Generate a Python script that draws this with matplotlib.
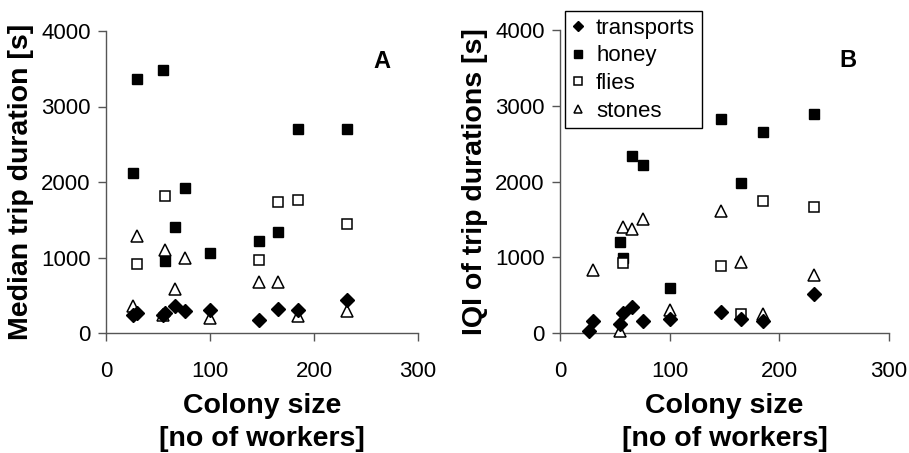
import matplotlib.pyplot as plt

plt.rcParams['font.family'] = ['Liberation Sans', 'DejaVu Sans']

# colony sizes [no of workers] and values
# panel A: median trip duration [s]
a_trans_x = [26, 30, 55, 57, 66, 76, 100, 147, 165, 185, 232]
a_trans_y = [234, 265, 234, 265, 358, 291, 300, 168, 313, 300, 441]
a_honey_x = [26, 30, 55, 57, 66, 76, 100, 147, 165, 185, 232]
a_honey_y = [2115, 3360, 3488, 960, 1400, 1920, 1064, 1214, 1338, 2706, 2706]
a_flies_x = [30, 57, 147, 165, 185, 232]
a_flies_y = [918, 1815, 962, 1735, 1757, 1439]
a_stones_x = [26, 30, 55, 57, 66, 76, 100, 147, 165, 185, 232]
a_stones_y = [353, 1280, 234, 1095, 587, 993, 199, 675, 675, 221, 287]

# panel B: IQI of trip durations [s]
b_trans_x = [26, 30, 55, 57, 66, 76, 100, 147, 165, 185, 232]
b_trans_y = [31, 154, 123, 264, 343, 154, 189, 277, 189, 154, 514]
b_honey_x = [55, 57, 66, 76, 100, 147, 165, 185, 232]
b_honey_y = [1196, 989, 2334, 2215, 589, 2822, 1974, 2659, 2888]
b_flies_x = [57, 147, 165, 185, 232]
b_flies_y = [927, 888, 255, 1736, 1662]
b_stones_x = [30, 55, 57, 66, 76, 100, 147, 165, 185, 232]
b_stones_y = [835, 31, 1393, 1371, 1503, 299, 1609, 936, 255, 760]

XTICKS = [0, 100, 200, 300]
YTICKS = [0, 1000, 2000, 3000, 4000]
SPINE_COLOR = '#555555'
TICK_SIZE = 16
LABEL_SIZE = 20.5

fig = plt.figure(figsize=(9.09, 4.53), dpi=100)
W, H = 909, 453
axA = fig.add_axes([106 / W, (H - 333) / H, (418 - 106) / W, (333 - 31) / H])
axB = fig.add_axes([560 / W, (H - 333) / H, (889 - 560) / W, (333 - 30) / H])


def draw_panel(ax, tx, ty, hx, hy, fx, fy, sx, sy):
   ax.plot(hx, hy, 's', ms=7.5, mfc='black', mec='black', label='honey', zorder=3)
   ax.plot(fx, fy, 's', ms=7, mfc='white', mec='black', mew=1.1, label='flies', zorder=3)
   ax.plot(sx, sy, '^', ms=8, mfc='white', mec='black', mew=1.1, label='stones', zorder=3)
   ax.plot(tx, ty, 'D', ms=7, mfc='black', mec='black', label='transports', zorder=4)
   ax.set_xlim(0, 300)
   ax.set_ylim(0, 4000)
   ax.set_xticks(XTICKS)
   ax.set_yticks(YTICKS)
   ax.spines['top'].set_visible(False)
   ax.spines['right'].set_visible(False)
   for s in ('left', 'bottom'):
      ax.spines[s].set_color(SPINE_COLOR)
      ax.spines[s].set_linewidth(1)
   ax.tick_params(axis='both', direction='out', length=6, width=1,
                  color=SPINE_COLOR, labelsize=TICK_SIZE)
   ax.tick_params(axis='x', pad=14)
   ax.tick_params(axis='y', pad=5)
   ax.set_xlabel('Colony size\n[no of workers]', fontsize=LABEL_SIZE,
                 fontweight='bold', labelpad=8, linespacing=1.38)
   for line in ax.lines:
      line.set_clip_on(False)


draw_panel(axA, a_trans_x, a_trans_y, a_honey_x, a_honey_y,
           a_flies_x, a_flies_y, a_stones_x, a_stones_y)
draw_panel(axB, b_trans_x, b_trans_y, b_honey_x, b_honey_y,
           b_flies_x, b_flies_y, b_stones_x, b_stones_y)

axA.set_ylabel('Median trip duration [s]', fontsize=LABEL_SIZE, fontweight='bold', labelpad=5)
axB.set_ylabel('IQI of trip durations [s]', fontsize=LABEL_SIZE, fontweight='bold', labelpad=5)

axA.text(0.885, 0.9, 'A', transform=axA.transAxes, fontsize=17, fontweight='bold',
         ha='center', va='center')
axB.text(0.875, 0.9, 'B', transform=axB.transAxes, fontsize=17, fontweight='bold',
         ha='center', va='center')

# legend order as in the picture
handles, labels = axB.get_legend_handles_labels()
order = [labels.index(n) for n in ('transports', 'honey', 'flies', 'stones')]
leg = axB.legend([handles[i] for i in order], [labels[i] for i in order],
                 loc='upper left', bbox_to_anchor=(565 / W, (H - 11) / H),
                 bbox_transform=fig.transFigure, fontsize=16, markerscale=0.75,
                 handlelength=0.6, handletextpad=0.5, labelspacing=0.3,
                 borderpad=0.3, borderaxespad=0, fancybox=False, framealpha=1,
                 edgecolor='black')
leg.get_frame().set_linewidth(1)

fig.savefig('out.png', dpi=100)
